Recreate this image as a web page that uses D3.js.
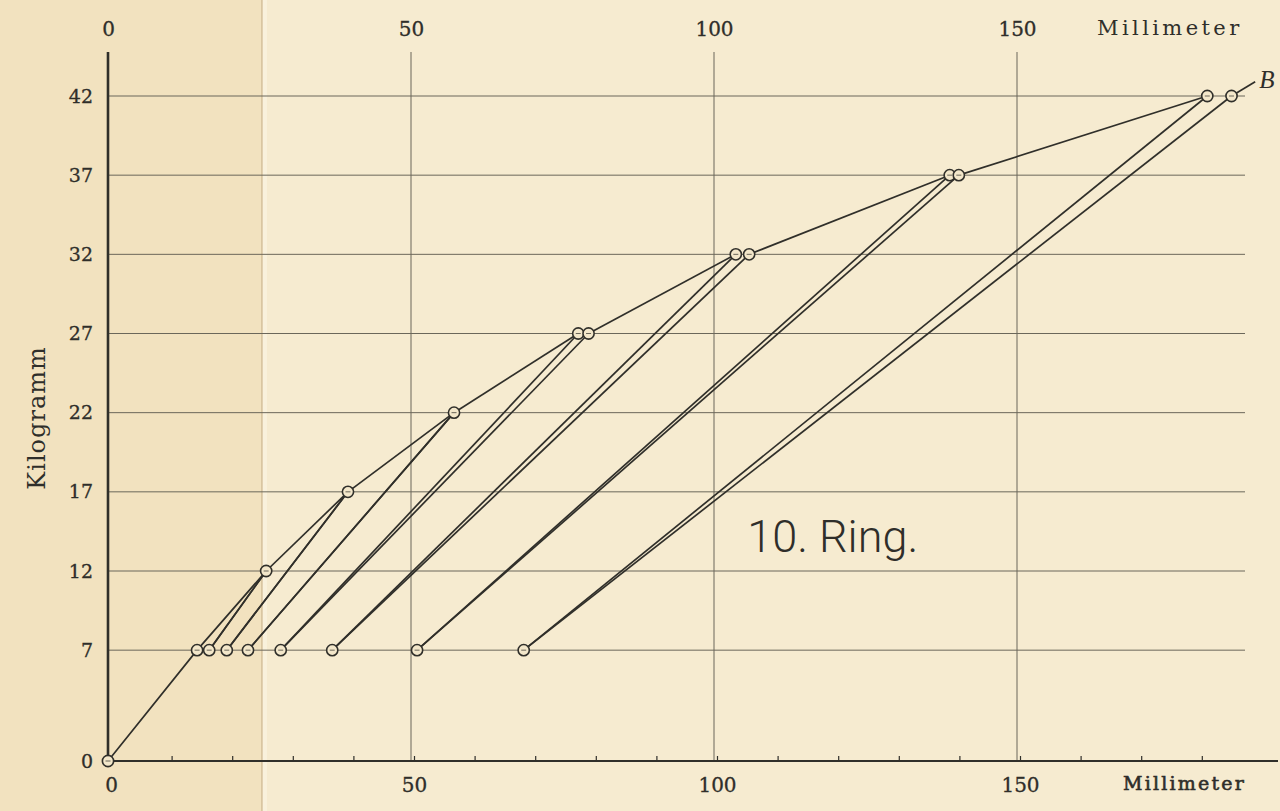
<!DOCTYPE html>
<html><head><meta charset="utf-8">
<script src="https://cdn.jsdelivr.net/npm/d3@7"></script>
<style>body{margin:0;background:#f5eacf;} svg{display:block}</style>
</head><body><svg id="c" width="1280" height="811"></svg>
<script>
// ---------- data ----------
const kgTicks   = [0, 7, 12, 17, 22, 27, 32, 37, 42];
const kgGrid    = [7, 12, 17, 22, 27, 32, 37, 42];
const mmLabels  = [0, 50, 100, 150];
const mmGrid    = [50, 100, 150];
const mmMinor   = [10, 20, 30, 40, 50, 60, 70, 80, 90, 100, 110, 120, 130, 140, 150, 160, 170, 180];

const originMm = 0, originKg = 0;
const firstMm = 14.7, firstKg = 7;                 // first loading to 7 kg
const peakKg      = [12, 17, 22, 27, 32, 37, 42];
const peakFirstMm = [26.1, 39.6, 57.1, 77.6, 103.6, 138.9, 181.4];  // load reaches peak
const peakAgainMm = [26.1, 39.6, 57.1, 79.3, 105.8, 140.4, 185.4];  // after unload/reload
const lowKg = 7;
const lowMm       = [16.7, 19.6, 23.1, 28.5, 37.0, 51.0, 68.6];     // unloaded to 7 kg
const endMm = 189.3, endKg = 42.9;                  // line to "B"

const titleText = "10. Ring.";
const titleMm = 105.5, titleKg = 13.2;

// ---------- drawing ----------
const svg = d3.select("#c");
const W = 1280, H = 811;
const x = d3.scaleLinear().domain([0, 150]).range([108, 1017]);
const y = d3.scaleLinear().domain([0, 42]).range([761, 96]);

const ink = "#302f2a", grid = "#6b675a", txt = "#2f2e2a";
const serif = "'DejaVu Serif', 'Liberation Serif', serif";

// paper
svg.append("rect").attr("width", W).attr("height", H).attr("fill", "#f6ebd0");
svg.append("rect").attr("width", x(25.4)).attr("height", H).attr("fill", "#f2e2bf");
svg.append("rect").attr("x", x(25.4) + 1).attr("width", 4).attr("height", H).attr("fill", "#f9f1dc");
svg.append("line").attr("x1", x(25.4)).attr("x2", x(25.4)).attr("y1", 0).attr("y2", H)
  .attr("stroke", "#cdb992").attr("stroke-width", 1.2);

// grid
const gTop = 52, gRight = 1245;
svg.append("g").selectAll("line").data(mmGrid).join("line")
  .attr("x1", d => x(d)).attr("x2", d => x(d)).attr("y1", gTop).attr("y2", y(0))
  .attr("stroke", grid).attr("stroke-width", 1);
svg.append("g").selectAll("line").data(kgGrid).join("line")
  .attr("x1", x(0)).attr("x2", gRight).attr("y1", d => y(d)).attr("y2", d => y(d))
  .attr("stroke", grid).attr("stroke-width", 1);

// axes lines
svg.append("line").attr("x1", x(0)).attr("x2", x(0)).attr("y1", gTop).attr("y2", y(0))
  .attr("stroke", ink).attr("stroke-width", 2.6);
svg.append("line").attr("x1", x(0)).attr("x2", 1278).attr("y1", y(0)).attr("y2", y(0))
  .attr("stroke", ink).attr("stroke-width", 2.2);

// bottom minor ticks
const minorAx = svg.append("g").attr("transform", `translate(3,${y(0)})`)
  .call(d3.axisBottom(x).tickValues(mmMinor).tickSize(-5).tickFormat(""));
minorAx.select(".domain").remove();
minorAx.selectAll("line").attr("stroke", ink).attr("stroke-width", 1.2);

// bottom labels
const botAx = svg.append("g").attr("transform", `translate(3,${y(0)})`)
  .call(d3.axisBottom(x).tickValues(mmLabels).tickSize(0).tickPadding(17));
botAx.select(".domain").remove();
botAx.selectAll("text").attr("font-family", serif).attr("font-size", 20).attr("fill", txt)
  .attr("stroke", txt).attr("stroke-width", 0.3);

// top labels
const topAx = svg.append("g").attr("transform", `translate(0,36)`)
  .call(d3.axisTop(x).tickValues(mmLabels).tickSize(0).tickPadding(0));
topAx.select(".domain").remove();
topAx.selectAll("text").attr("font-family", serif).attr("font-size", 20).attr("fill", txt)
  .attr("stroke", txt).attr("stroke-width", 0.3);

// left labels
const leftAx = svg.append("g").attr("transform", `translate(${x(0)},0)`)
  .call(d3.axisLeft(y).tickValues(kgTicks).tickSize(0).tickPadding(15));
leftAx.select(".domain").remove();
leftAx.selectAll("text").attr("font-family", serif).attr("font-size", 19).attr("fill", txt)
  .attr("stroke", txt).attr("stroke-width", 0.3);

// axis titles
svg.append("text").attr("x", 1097).attr("y", 35).text("Millimeter")
  .attr("font-family", serif).attr("font-size", 21).attr("letter-spacing", 3.4)
  .attr("fill", txt);
svg.append("text").attr("x", 1123).attr("y", 790).text("Millimeter")
  .attr("font-family", serif).attr("font-size", 19).attr("letter-spacing", 2.2)
  .attr("stroke", txt).attr("stroke-width", 0.6).attr("fill", txt);
svg.append("text").attr("transform", "translate(45,418) rotate(-90)")
  .attr("text-anchor", "middle").text("Kilogramm")
  .attr("font-family", serif).attr("font-size", 24).attr("letter-spacing", 1)
  .attr("fill", txt);

// ---------- series segments ----------
const lineGen = d3.line().x(d => x(d[0])).y(d => y(d[1]));
const segs = [];
segs.push([[originMm, originKg], [firstMm, firstKg], [peakFirstMm[0], peakKg[0]]]);
for (let i = 0; i < peakKg.length - 1; i++)
  segs.push([[peakAgainMm[i], peakKg[i]], [peakFirstMm[i + 1], peakKg[i + 1]]]);
segs.push([[peakAgainMm[peakKg.length - 1], peakKg[peakKg.length - 1]], [endMm, endKg]]);
for (let i = 0; i < peakKg.length; i++) {
  segs.push([[peakFirstMm[i], peakKg[i]], [lowMm[i], lowKg]]);   // unloading
  segs.push([[lowMm[i], lowKg], [peakAgainMm[i], peakKg[i]]]);   // reloading
}
svg.append("g").selectAll("path").data(segs).join("path")
  .attr("d", lineGen).attr("fill", "none").attr("stroke", ink).attr("stroke-width", 1.7);

// markers
const pts = [[originMm, originKg], [firstMm, firstKg]];
peakKg.forEach((k, i) => {
  pts.push([peakFirstMm[i], k]);
  if (peakAgainMm[i] !== peakFirstMm[i]) pts.push([peakAgainMm[i], k]);
  pts.push([lowMm[i], lowKg]);
});
svg.append("g").selectAll("circle").data(pts).join("circle")
  .attr("cx", d => x(d[0])).attr("cy", d => y(d[1])).attr("r", 5.6)
  .attr("fill", "#f3e7ca").attr("stroke", ink).attr("stroke-width", 1.6);
svg.append("g").selectAll("line").data(pts).join("line")
  .attr("x1", d => x(d[0]) - 2.5).attr("x2", d => x(d[0]) + 2.5)
  .attr("y1", d => y(d[1])).attr("y2", d => y(d[1]))
  .attr("stroke", grid).attr("stroke-width", 1);

// B label
svg.append("text").attr("x", x(endMm) + 4).attr("y", y(endKg) + 6).text("B")
  .attr("font-family", "'Liberation Serif', serif").attr("font-style", "italic")
  .attr("font-size", 25).attr("fill", txt);

// title
svg.append("text").attr("x", x(titleMm)).attr("y", y(titleKg)).text(titleText)
  .attr("font-family", "Roboto, 'DejaVu Sans', sans-serif").attr("font-weight", 300)
  .attr("font-size", 45).attr("fill", txt);
</script></body></html>
